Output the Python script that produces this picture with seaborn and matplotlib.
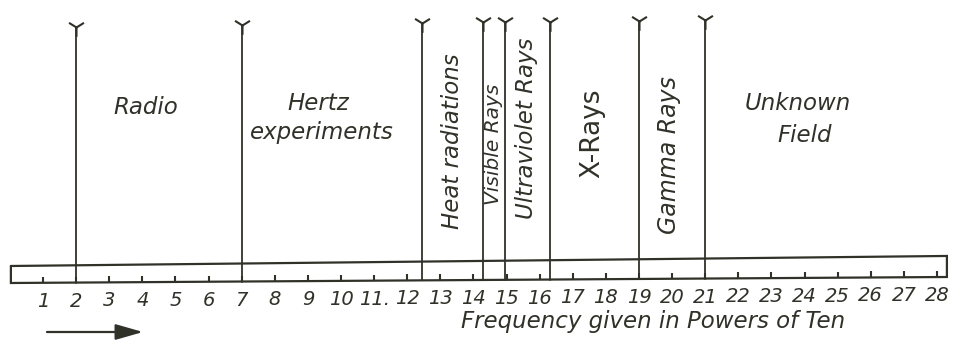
import numpy as np
import pandas as pd
import matplotlib
matplotlib.use("Agg")
import matplotlib.pyplot as plt
import seaborn as sns

# ---- data -------------------------------------------------------------
tick_values = list(range(1, 29))
tick_labels = ["1", "2", "3", "4", "5", "6", "7", "8", "9", "10", "11.", "12",
               "13", "14", "15", "16", "17", "18", "19", "20", "21", "22", "23",
               "24", "25", "26", "27", "28"]
boundaries = [2, 7, 12.45, 14.3, 14.95, 16.3, 19, 21]
region_names = ["Radio", "Hertz", "experiments", "Heat radiations", "Visible Rays",
                "Ultraviolet Rays", "X-Rays", "Gamma Rays", "Unknown", "Field"]
axis_title = "Frequency given in Powers of Ten"

# ---- style ------------------------------------------------------------
sns.set_theme(style="white")
plt.rcParams["font.family"] = ["DejaVu Sans"]
ink = "#303128"

W, H = 963, 342
fig = plt.figure(figsize=(W / 100, H / 100), dpi=100)
ax = fig.add_axes([0, 0, 1, 1])
px0, pstep = 9.9, 33.11


def bar_bottom(v):
    return 283 - 6 * np.asarray(v, dtype=float) / 28.3


def bar_top(v):
    return 266 - 10 * np.asarray(v, dtype=float) / 28.2


def line_top(v):
    return 27.5 - 0.36 * np.asarray(v, dtype=float)


# bar (hand-drawn scale strip)
xl, xr = 0.03, 28.3
ax.plot([xl, xr, xr, xl, xl],
        [bar_top(xl), bar_top(xr), bar_bottom(xr), bar_bottom(xl), bar_top(xl)],
        color=ink, lw=1.6, solid_joinstyle="miter")

# small ticks on the strip
tv = np.array(tick_values, dtype=float)
ax.vlines(tv, bar_bottom(tv) - 6, bar_bottom(tv), color=ink, lw=1.5)

# boundary lines via seaborn
rows = []
for i, b in enumerate(boundaries):
    rows.append({"x": b, "y": float(line_top(b)), "id": i})
    rows.append({"x": b, "y": float(bar_bottom(b)), "id": i})
df = pd.DataFrame(rows)
sns.lineplot(data=df, x="x", y="y", units="id", estimator=None, sort=False,
             color=ink, lw=1.3, ax=ax, legend=False)
sns.scatterplot(x=boundaries, y=[float(line_top(b)) for b in boundaries],
                marker="1", s=180, linewidth=1.5, color=ink, ax=ax, legend=False)
ax.set_xlim(-px0 / pstep, (W - px0) / pstep)
ax.set_ylim(H, 0)
ax.axis("off")

# tick labels
for v, lab in zip(tick_values, tick_labels):
    ax.text(v, float(bar_bottom(v)) + 24, lab, ha="center", va="baseline",
            fontsize=14, style="italic", color=ink)

# region labels
fs = 16.5
kw = dict(color=ink, style="italic", ha="center", va="center")
ax.text(4.09, 107, region_names[0], fontsize=fs, **kw)
ax.text(9.3, 104, region_names[1], fontsize=fs, **kw)
ax.text(9.43, 133, region_names[2], fontsize=fs, **kw)
ax.text(13.38, 141, region_names[3], fontsize=fs, rotation=90, **kw)
ax.text(14.62, 144, region_names[4], fontsize=14.5, rotation=90, **kw)
ax.text(15.59, 128, region_names[5], fontsize=fs, rotation=90, **kw)
ax.text(17.58, 133, region_names[6], fontsize=19, rotation=90, color=ink,
        ha="center", va="center")
ax.text(19.91, 155, region_names[7], fontsize=17, rotation=90, **kw)
ax.text(23.8, 103, region_names[8], fontsize=fs, **kw)
ax.text(24.0, 135, region_names[9], fontsize=fs, **kw)

# axis title and arrow
ax.text(19.42, 328, axis_title, ha="center", va="baseline", fontsize=16.5,
        style="italic", color=ink)
ax.annotate("", xy=(4.02, 332), xytext=(1.12, 332),
            arrowprops=dict(arrowstyle="-|>,head_length=1.4,head_width=0.4",
                            lw=1.6, color=ink, shrinkA=0, shrinkB=0))

fig.savefig("out.png", dpi=100, facecolor="white")
